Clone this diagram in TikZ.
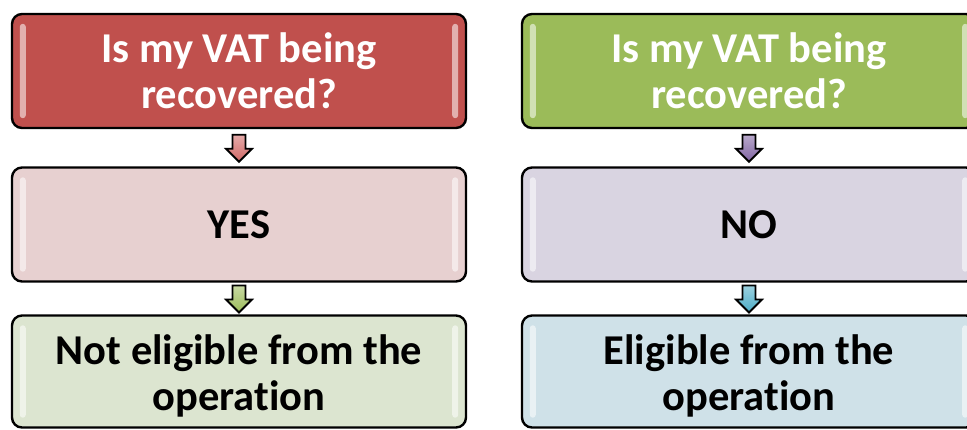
\documentclass[tikz,border=0pt]{standalone}
\usepackage{fontspec}
\setmainfont{Carlito}[RawFeature=-liga]
\usetikzlibrary{calc}
\definecolor{topL}{HTML}{C0504D}
\definecolor{topR}{HTML}{9BBB59}
\definecolor{midL}{HTML}{E7D0D0}
\definecolor{midR}{HTML}{D9D4E1}
\definecolor{botL}{HTML}{DCE5D0}
\definecolor{botR}{HTML}{CFE1E8}
\definecolor{arrR}{HTML}{D06765}
\definecolor{arrG}{HTML}{9BBB59}
\definecolor{arrP}{HTML}{8064A2}
\definecolor{arrB}{HTML}{4BACC6}
\newcommand\shine[1]{%
  \fill[white,opacity=0.55,rounded corners=3pt]
    ($(#1.north west)+(9,11)$) rectangle ($(#1.south west)+(15,-11)$);
  \fill[white,opacity=0.55,rounded corners=3pt]
    ($(#1.north east)+(-15,11)$) rectangle ($(#1.south east)+(-9,-11)$);
}
\newcommand\blockarrow[3]{%
  \coordinate (#1#2m) at ($(#1.south)!0.5!(#2.north)$);
  \draw[shift={(#1#2m)}, line width=1.8pt, line join=miter, draw=black,
        top color=#3!55!white, bottom color=#3]
    (-6.5,-13) -- (6.5,-13) -- (6.5,1) -- (13,1) -- (0,14) -- (-13,1) -- (-6.5,1) -- cycle;
}
\begin{document}
\begin{tikzpicture}[x=1pt,y=-1pt,
  box/.style={draw=black, line width=2.4pt, rounded corners=10pt,
    minimum width=454pt, minimum height=114pt, inner sep=0pt, align=center,
    font=\bfseries\fontsize{42.5}{46}\selectfont}]
\useasboundingbox (0,0) rectangle (967,429);
\node[box, fill=topL, text=white] (tl) at (239,71) {Is my VAT being\\recovered?};
\node[box, fill=midL] (ml) at (239,224.5) {YES};
\node[box, fill=botL, minimum height=112pt] (bl) at (239,371.5) {};
\node[box, fill=topR, text=white] (tr) at (749,71) {Is my VAT being\\recovered?};
\node[box, fill=midR] (mr) at (749,224.5) {NO};
\node[box, fill=botR, minimum height=112pt] (br) at (749,371.5) {};
\node[box, draw=none, fill=none, minimum width=0pt, minimum height=0pt] (blt) at ($(bl.center)+(0,4)$) {Not eligible from the\\operation};
\node[box, draw=none, fill=none, minimum width=0pt, minimum height=0pt] (brt) at ($(br.center)+(0,4)$) {Eligible from the\\operation};
\shine{tl}\shine{ml}\shine{bl}\shine{tr}\shine{mr}\shine{br}
\blockarrow{tl}{ml}{arrR}
\blockarrow{ml}{bl}{arrG}
\blockarrow{tr}{mr}{arrP}
\blockarrow{mr}{br}{arrB}
\end{tikzpicture}
\end{document}
